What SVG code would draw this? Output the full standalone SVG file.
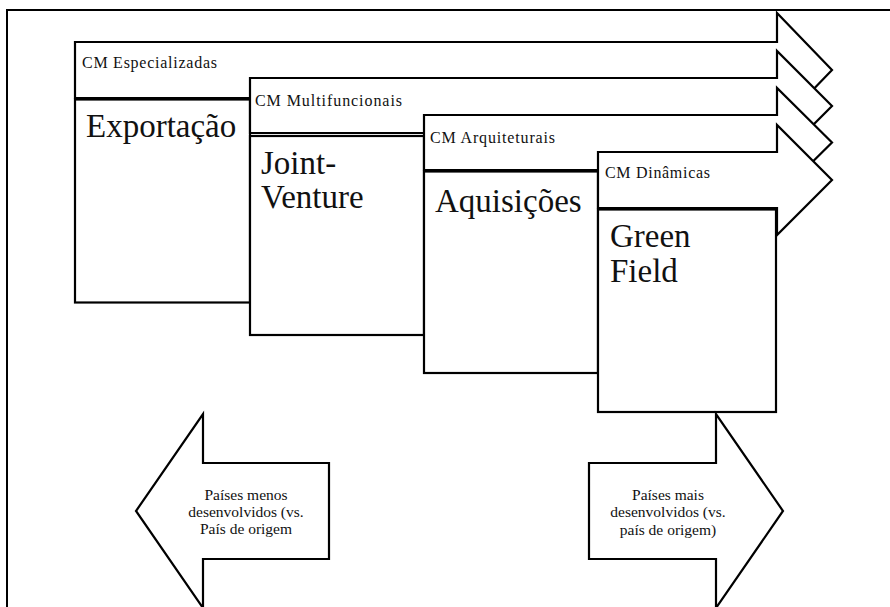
<svg xmlns="http://www.w3.org/2000/svg" width="890" height="607" viewBox="0 0 890 607">
<defs>
<style>
.frame{fill:none;stroke:#000;stroke-width:2}
.shape{fill:#fff;stroke:#000;stroke-width:2.2;stroke-linejoin:miter}
.lbl{font-size:16px;fill:#111}
.big{font-size:33px;fill:#111}
.sm{font-size:15.5px;fill:#111;text-anchor:middle}
</style>
</defs>
<rect width="890" height="607" fill="#fff"/>
<rect class="frame" x="7" y="10" width="900" height="620"/>

<g font-family="Liberation Serif, DejaVu Serif, serif">
<g id="cm-especializadas">
<polygon class="shape" points="75,42 777,42 777,13 832,70 777,127 777,98 75,98"/>
<text class="lbl" x="82" y="68" textLength="135" lengthAdjust="spacing">CM Especializadas</text>
</g>
<g id="exportacao">
<rect class="shape" x="75" y="99.5" width="175" height="203"/>
<text class="big" x="86" y="137">Exportação</text>
</g>

<g id="cm-multifuncionais">
<polygon class="shape" points="250,78 777,78 777,51 832,106 777,161 777,133 250,133"/>
<text class="lbl" x="255" y="106" textLength="147" lengthAdjust="spacing">CM Multifuncionais</text>
</g>
<g id="joint-venture">
<rect class="shape" x="250" y="136" width="174" height="199"/>
<text class="big" x="261" y="174">Joint-</text>
<text class="big" x="261" y="208">Venture</text>
</g>

<g id="cm-arquiteturais">
<polygon class="shape" points="424,115 777,115 777,88 832,142.5 777,197 777,170 424,170"/>
<text class="lbl" x="430" y="143" textLength="125" lengthAdjust="spacing">CM Arquiteturais</text>
</g>
<g id="aquisicoes">
<rect class="shape" x="424" y="171.5" width="174" height="201.5"/>
<text class="big" x="435" y="212">Aquisições</text>
</g>

<g id="cm-dinamicas">
<polygon class="shape" points="598,152 777,152 777,125 832,180 777,235 777,208 598,208"/>
<text class="lbl" x="605" y="178" textLength="105" lengthAdjust="spacing">CM Dinâmicas</text>
</g>
<g id="green-field">
<rect class="shape" x="598" y="209.5" width="178" height="202.5"/>
<text class="big" x="610" y="247">Green</text>
<text class="big" x="610" y="282">Field</text>
</g>

<g id="paises-menos">
<polygon class="shape" points="329,463 203,463 203,414 136,511 203,608 203,559 329,559"/>
<text class="sm" x="246" y="500">Países menos</text>
<text class="sm" x="246" y="517">desenvolvidos (vs.</text>
<text class="sm" x="246" y="534">País de origem</text>
</g>

<g id="paises-mais">
<polygon class="shape" points="589,463 716,463 716,414 783,511 716,608 716,559 589,559"/>
<text class="sm" x="668" y="500">Países mais</text>
<text class="sm" x="668" y="517">desenvolvidos (vs.</text>
<text class="sm" x="668" y="535">país de origem)</text>
</g>
</g>

<g id="connectors"/>
</svg>
